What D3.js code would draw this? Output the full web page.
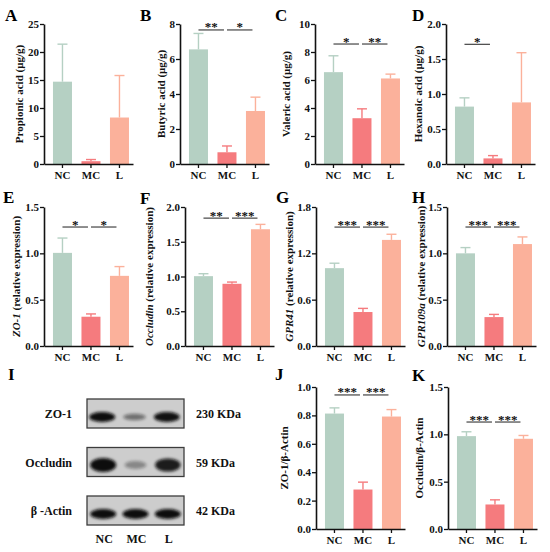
<!DOCTYPE html>
<html>
<head>
<meta charset="utf-8">
<script src="https://cdn.jsdelivr.net/npm/d3@7"></script>
<style>
  body { margin: 0; background: #fff; }
  svg { display: block; font-family: "Liberation Serif", "Times New Roman", serif; font-weight: bold; }
</style>
</head>
<body>
<div id="chart"></div>
<script>
const groups = ["NC", "MC", "L"];

// bar means and upper error (SD)
const propionicMean = [14.7, 0.5, 8.3];
const propionicErr = [6.7, 0.3, 7.5];
const butyricMean = [6.55, 0.67, 3.03];
const butyricErr = [0.91, 0.36, 0.79];
const valericMean = [6.56, 3.27, 6.11];
const valericErr = [1.17, 0.67, 0.31];
const hexanoicMean = [0.82, 0.08, 0.88];
const hexanoicErr = [0.125, 0.04, 0.71];
const zo1ExprMean = [1.005, 0.316, 0.757];
const zo1ExprErr = [0.16, 0.03, 0.1];
const occludinExprMean = [1.005, 0.895, 1.68];
const occludinExprErr = [0.035, 0.025, 0.07];
const gpr41Mean = [1.008, 0.44, 1.374];
const gpr41Err = [0.064, 0.047, 0.073];
const gpr109aMean = [1.0, 0.312, 1.1];
const gpr109aErr = [0.062, 0.029, 0.077];
const zo1RatioMean = [0.813, 0.278, 0.792];
const zo1RatioErr = [0.04, 0.052, 0.049];
const occludinRatioMean = [0.981, 0.259, 0.953];
const occludinRatioErr = [0.046, 0.049, 0.035];

// y tick labels
const ticksA = [0, 5, 10, 15, 20, 25];
const ticksB = [0, 2, 4, 6, 8];
const ticksC = [0, 2, 4, 6, 8, 10];
const ticksD = [0, 0.5, 1, 1.5, 2];
const ticksE = [0, 0.5, 1, 1.5];
const ticksF = [0, 0.5, 1, 1.5, 2];
const ticksG = [0, 0.6, 1.2, 1.8];
const ticksH = [0, 0.5, 1, 1.5];
const ticksJ = [0, 0.2, 0.4, 0.6, 0.8, 1];
const ticksK = [0, 0.5, 1, 1.5];

// significance brackets: [from group, to group, stars, height in data units]
const sigB = [[0, 1, "**", 7.66], [1, 2, "*", 7.66]];
const sigC = [[0, 1, "*", 8.57], [1, 2, "**", 8.57]];
const sigD = [[0, 1, "*", 1.71]];
const sigE = [[0, 1, "*", 1.284], [1, 2, "*", 1.284]];
const sigF = [[0, 1, "**", 1.84], [1, 2, "***", 1.84]];
const sigG = [[0, 1, "***", 1.54], [1, 2, "***", 1.54]];
const sigH = [[0, 1, "***", 1.284], [1, 2, "***", 1.284]];
const sigJ = [[0, 1, "***", 0.944], [1, 2, "***", 0.944]];
const sigK = [[0, 1, "***", 1.13], [1, 2, "***", 1.13]];

// western blot: relative band intensity per lane
const blotProteins = ["ZO-1", "Occludin", "β -Actin"];
const blotSizes = ["230 KDa", "59 KDa", "42 KDa"];
const blotBands = [[1.0, 0.35, 0.97], [1.0, 0.2, 0.9], [1.0, 1.0, 1.0]];

const colours = ["#b5d0c3", "#f57b7e", "#fbb19b"];

const width = 550, height = 552;
const rows = [{ top: 24, bottom: 164 }, { top: 207, bottom: 346 }, { top: 387, bottom: 529 }];

const panels = [
  { letter: "A", lx: 5, ly: 21, ax: 44, row: 0, mean: propionicMean, err: propionicErr, ticks: ticksA, fmt: "d", sig: [], label: [["Propionic acid (μg/g)", false]], off: 25 },
  { letter: "B", lx: 140, ly: 21, ax: 180, row: 0, mean: butyricMean, err: butyricErr, ticks: ticksB, fmt: "d", sig: sigB, label: [["Butyric acid (μg/g)", false]], off: 19 },
  { letter: "C", lx: 275, ly: 21, ax: 315, row: 0, mean: valericMean, err: valericErr, ticks: ticksC, fmt: "d", sig: sigC, label: [["Valeric acid (μg/g)", false]], off: 29 },
  { letter: "D", lx: 412, ly: 21, ax: 446, row: 0, mean: hexanoicMean, err: hexanoicErr, ticks: ticksD, fmt: ".1f", sig: sigD, label: [["Hexanoic acid (μg/g)", false]], off: 28 },
  { letter: "E", lx: 3, ly: 203, ax: 44, row: 1, mean: zo1ExprMean, err: zo1ExprErr, ticks: ticksE, fmt: ".1f", sig: sigE, label: [["ZO-1", true], [" (relative expression)", false]], off: 28 },
  { letter: "F", lx: 140, ly: 204, ax: 185, row: 1, mean: occludinExprMean, err: occludinExprErr, ticks: ticksF, fmt: ".1f", sig: sigF, label: [["Occludin", true], [" (relative expression)", false]], off: 36 },
  { letter: "G", lx: 276, ly: 203, ax: 316, row: 1, mean: gpr41Mean, err: gpr41Err, ticks: ticksG, fmt: ".1f", sig: sigG, label: [["GPR41", true], [" (relative expression)", false]], off: 27 },
  { letter: "H", lx: 412, ly: 203, ax: 447, row: 1, mean: gpr109aMean, err: gpr109aErr, ticks: ticksH, fmt: ".1f", sig: sigH, label: [["GPR109a", true], [" (relative expression)", false]], off: 26 },
  { letter: "J", lx: 275, ly: 380, ax: 316, row: 2, mean: zo1RatioMean, err: zo1RatioErr, ticks: ticksJ, fmt: ".1f", sig: sigJ, label: [["ZO-1/β-Actin", false]], off: 32 },
  { letter: "K", lx: 412, ly: 381, ax: 448, row: 2, mean: occludinRatioMean, err: occludinRatioErr, ticks: ticksK, fmt: ".1f", sig: sigK, label: [["Occludin/β-Actin", false]], off: 29 }
];

const svg = d3.select("#chart").append("svg")
  .attr("width", width)
  .attr("height", height);

const defs = svg.append("defs");
defs.append("filter").attr("id", "blur")
  .attr("x", "-30%").attr("y", "-60%").attr("width", "160%").attr("height", "220%")
  .append("feGaussianBlur").attr("stdDeviation", 1.4);

panels.forEach(p => {
  const { top, bottom } = rows[p.row];
  const g = svg.append("g").attr("class", "panel");

  const x = d3.scaleBand()
    .domain(groups)
    .range([p.ax, p.ax + 89])
    .paddingInner(0.333)
    .paddingOuter(0.228)
    .align(0.69);

  const y = d3.scaleLinear()
    .domain([0, d3.max(p.ticks)])
    .range([bottom, top]);

  g.append("text")
    .attr("x", p.lx).attr("y", p.ly)
    .attr("font-size", 17)
    .attr("fill", "#000")
    .text(p.letter);

  // bars
  const bars = groups.map((d, i) => ({ g: d, mean: p.mean[i], err: p.err[i], c: colours[i] }));

  g.selectAll(".bar").data(bars).enter().append("rect")
    .attr("class", "bar")
    .attr("x", d => x(d.g))
    .attr("width", x.bandwidth())
    .attr("y", d => y(d.mean))
    .attr("height", d => y(0) - y(d.mean))
    .attr("fill", d => d.c);

  // upper error bars
  const eb = g.selectAll(".err").data(bars).enter().append("g")
    .attr("class", "err")
    .attr("stroke", d => d.c)
    .attr("stroke-width", 1.4);
  eb.append("line")
    .attr("x1", d => x(d.g) + x.bandwidth() / 2)
    .attr("x2", d => x(d.g) + x.bandwidth() / 2)
    .attr("y1", d => y(d.mean))
    .attr("y2", d => y(d.mean + d.err));
  eb.append("line")
    .attr("x1", d => x(d.g) + x.bandwidth() / 2 - 5)
    .attr("x2", d => x(d.g) + x.bandwidth() / 2 + 5)
    .attr("y1", d => y(d.mean + d.err))
    .attr("y2", d => y(d.mean + d.err));

  // axes
  const yAxis = d3.axisLeft(y)
    .tickValues(p.ticks)
    .tickSize(4)
    .tickSizeOuter(0)
    .tickPadding(1)
    .tickFormat(d3.format(p.fmt));
  const ya = g.append("g").attr("transform", "translate(" + p.ax + ",0)").call(yAxis);

  const xAxis = d3.axisBottom(x).tickSize(4).tickSizeOuter(0).tickPadding(3);
  const xa = g.append("g").attr("transform", "translate(0," + bottom + ")").call(xAxis);

  [ya, xa].forEach(a => {
    a.select(".domain").attr("stroke", "#111").attr("stroke-width", 1.6);
    a.selectAll(".tick line").attr("stroke", "#111").attr("stroke-width", 1.3);
    a.selectAll("text")
      .attr("font-family", "Liberation Serif, Times New Roman, serif")
      .attr("font-weight", "bold")
      .attr("font-size", 11)
      .attr("fill", "#111");
  });

  // y label
  const lab = g.append("text")
    .attr("transform", "translate(" + (p.ax - p.off) + "," + ((top + bottom) / 2) + ") rotate(-90)")
    .attr("text-anchor", "middle")
    .attr("dy", "0.35em")
    .attr("font-size", 11)
    .attr("fill", "#111");
  lab.selectAll("tspan").data(p.label).enter().append("tspan")
    .attr("font-style", d => d[1] ? "italic" : "normal")
    .text(d => d[0]);

  // significance
  p.sig.forEach(s => {
    const c1 = x(groups[s[0]]) + x.bandwidth() / 2;
    const c2 = x(groups[s[1]]) + x.bandwidth() / 2 - 3;
    const yy = y(s[3]);
    g.append("line")
      .attr("x1", c1).attr("x2", c2)
      .attr("y1", yy).attr("y2", yy)
      .attr("stroke", "#333").attr("stroke-width", 1.1);
    g.append("text")
      .attr("x", (c1 + c2) / 2)
      .attr("y", yy + 1.5)
      .attr("text-anchor", "middle")
      .attr("font-size", 13)
      .attr("fill", "#111")
      .text(s[2]);
  });
});

// panel I: western blot
const blot = svg.append("g").attr("class", "blot");
blot.append("text").attr("x", 8).attr("y", 380).attr("font-size", 17).text("I");

const lane = d3.scaleBand().domain(groups).range([87, 184]);
const rowY = d3.scalePoint().domain(blotProteins).range([413.5, 510.5]);
const bandHeights = [10, 14, 10];

blotProteins.forEach((prot, r) => {
  const cy = rowY(prot);
  blot.append("rect")
    .attr("x", 87).attr("y", cy - 14.5)
    .attr("width", 97).attr("height", 29)
    .attr("fill", "#cdcdcd")
    .attr("stroke", "#3c3c3c").attr("stroke-width", 1.3);
  const bandY = cy + (r === 1 ? 3 : 3.5);
  blot.selectAll(".band" + r).data(groups).enter().append("ellipse")
    .attr("cx", d => lane(d) + lane.bandwidth() / 2 + (r === 0 ? -1 : 0))
    .attr("cy", bandY)
    .attr("rx", (d, i) => 13 * (0.8 + 0.2 * blotBands[r][i]))
    .attr("ry", (d, i) => bandHeights[r] / 2 * (0.45 + 0.55 * blotBands[r][i]))
    .attr("fill", "#0c0c0c")
    .attr("opacity", (d, i) => 0.2 + 0.8 * blotBands[r][i])
    .attr("filter", "url(#blur)");
  blot.append("text")
    .attr("x", 72).attr("y", cy + 4.5)
    .attr("text-anchor", "end")
    .attr("font-size", 12)
    .attr("fill", "#111")
    .text(prot);
  blot.append("text")
    .attr("x", 196).attr("y", cy + 4.5)
    .attr("font-size", 12)
    .attr("fill", "#111")
    .text(blotSizes[r]);
});

blot.selectAll(".lanelab").data(groups).enter().append("text")
  .attr("x", d => lane(d) + lane.bandwidth() / 2 + 1)
  .attr("y", 543)
  .attr("text-anchor", "middle")
  .attr("font-size", 12)
  .attr("fill", "#111")
  .text(d => d);
</script>
</body>
</html>
